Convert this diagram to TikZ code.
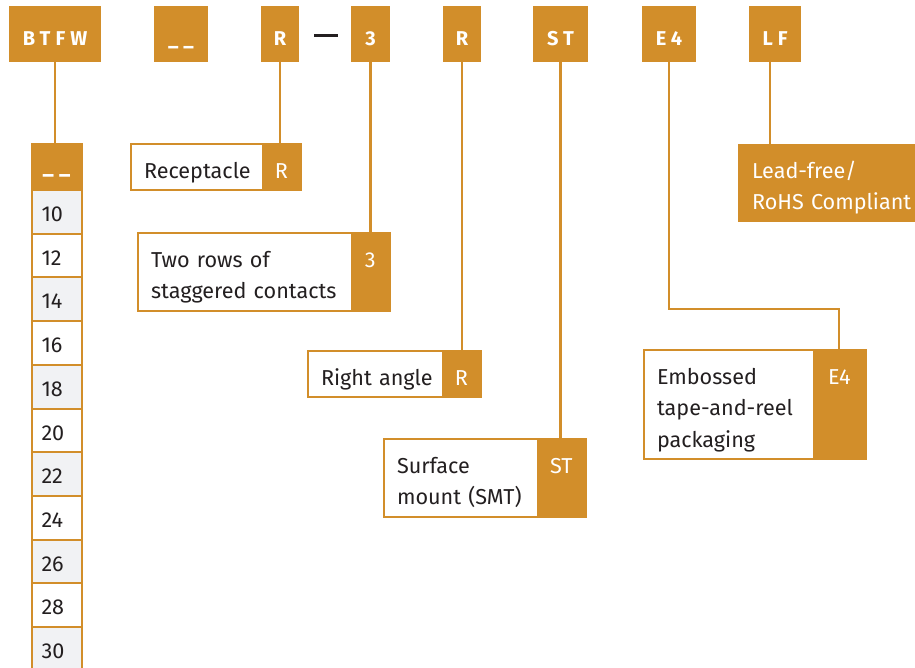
\documentclass[tikz,border=0pt]{standalone}
\usepackage{fontspec}
\setmainfont{Fira Sans}
\usetikzlibrary{positioning}
\definecolor{pnorange}{RGB}{210,142,42}
\definecolor{pntext}{RGB}{35,31,32}
\definecolor{pngray}{RGB}{241,242,244}
\begin{document}
\begin{tikzpicture}[x=1pt,y=-1pt,
  code/.style={fill=pnorange,text=white,inner sep=0pt,anchor=north,text height=39pt,text depth=17pt,
    font=\fontsize{20}{24}\selectfont\bfseries\addfontfeature{LetterSpace=25}},
  desc/.style={draw=pnorange,line width=2pt,fill=white,text=pntext,anchor=north west,outer sep=0pt,
    inner xsep=13pt,inner ysep=0pt,align=left,text height=34pt,font=\fontsize{21.6}{31.7}\selectfont},
  tag/.style={fill=pnorange,text=white,anchor=north east,inner sep=0pt,text height=34pt,
    font=\fontsize{21.6}{31.7}\selectfont},
  one line/.style={text depth=12pt},
  two lines/.style={text depth=43.7pt},
  three lines/.style={text depth=75.4pt},
  cell/.style={draw=pnorange,line width=2pt,text=pntext,anchor=north,outer sep=0pt,inner xsep=10pt,
    inner ysep=0pt,text width=30pt,align=left,text height=31.5pt,text depth=12.2pt,
    font=\fontsize{21.6}{26}\selectfont},
  link/.style={draw=pnorange,line width=2.2pt}]

\useasboundingbox (0,0) rectangle (915,667);

% part number codes
\node[code,minimum width=92pt] (hBTFW) at (55,6) {BTFW};
\node[code,minimum width=54pt] (hSize) at (181,6) {\_\_};
\node[code,minimum width=38pt] (hR) at (280,6) {R};
\node[inner sep=0pt,text=pntext] (dash) at (326,35.5) {\rule{24pt}{2.6pt}};
\node[code,minimum width=39pt] (h3) at (370.5,6) {3};
\node[code,minimum width=38pt] (hRa) at (462,6) {R};
\node[code,minimum width=55pt] (hST) at (560.5,6) {ST};
\node[code,minimum width=54pt] (hE4) at (669,6) {E4};
\node[code,minimum width=52pt] (hLF) at (775,6) {LF};

% number of positions
\node[cell,fill=pnorange,text=white,text width=50pt,inner xsep=0pt,align=center,
  text height=29pt,text depth=17pt] (colH) at (56.5,144) {\bfseries\addfontfeature{LetterSpace=25}\_\_};
\foreach \n [count=\i from 0] in {10,12,...,30} {
  \ifodd\i \def\cellfill{white}\else\def\cellfill{pngray}\fi
  \node[cell,fill=\cellfill] (s\n) at (56.5,{190+\i*43.7}) {\n};
}

% options
\node[desc,one line,text width=144pt] (rcp) at (131,144) {Receptacle};
\node[tag,one line,minimum width=39pt] (rcpT) at (rcp.north east) {R};

\node[desc,two lines,text width=226pt] (two) at (138,233) {Two rows of\\staggered contacts};
\node[tag,two lines,minimum width=39pt] (twoT) at (two.north east) {3};

\node[desc,one line,text width=147pt] (rang) at (308,351) {Right angle};
\node[tag,one line,minimum width=39pt] (rangT) at (rang.north east) {R};

\node[desc,two lines,text width=176pt] (smt) at (384,439) {Surface\\mount (SMT)};
\node[tag,two lines,minimum width=49pt] (smtT) at (smt.north east) {ST};

\node[desc,three lines,text width=196pt] (emb) at (644,350) {Embossed\\tape-and-reel\\packaging};
\node[tag,three lines,minimum width=53pt] (embT) at (emb.north east) {E4};

\node[desc,two lines,draw=none,fill=pnorange,text=white,text width=210pt,inner xsep=14pt] (lf) at (738,144) {Lead-free/\\RoHS Compliant};

% leaders
\draw[link] (hBTFW.south) -- (hBTFW.south |- colH.north);
\draw[link] (hR.south) -- (hR.south |- rcp.north);
\draw[link] (h3.south) -- (h3.south |- two.north);
\draw[link] (hRa.south) -- (hRa.south |- rang.north);
\draw[link] (hST.south) -- (hST.south |- smt.north);
\draw[link] (hE4.south) |- ([yshift=41pt]embT.north) -- (embT.north);
\draw[link] ([xshift=-5pt]hLF.south) -- ([xshift=-5pt]hLF.south |- lf.north);

\end{tikzpicture}
\end{document}
